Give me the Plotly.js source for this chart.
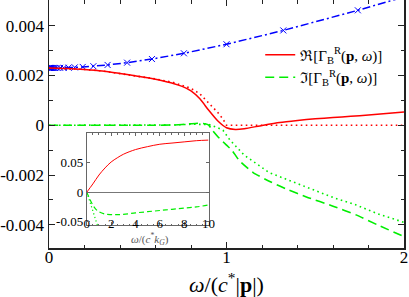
<!DOCTYPE html>
<html>
<head>
<meta charset="utf-8">
<script src="https://cdn.plot.ly/plotly-3.0.1.min.js"></script>
<style>html,body{margin:0;padding:0;background:#fff;}#chart{width:409px;height:297px;}</style>
</head>
<body>
<div id="chart"></div>
<script>
// ---- main panel data: omega/(c*|p|) ----
const xBlue = [0, 0.001, 0.0015, 0.002, 0.003, 0.004, 0.005, 0.007, 0.009, 0.012, 0.016, 0.021, 0.027, 0.036, 0.048, 0.063, 0.083, 0.11, 0.145, 0.19, 0.25, 0.33, 0.44, 0.58, 0.76, 1.0, 1.32, 1.74, 2.3];
const yBlue = [0.00230, 0.00230, 0.00230, 0.00230, 0.00230, 0.00230, 0.00230, 0.00230, 0.00230, 0.00230, 0.00230, 0.00230, 0.00230, 0.00230, 0.00230, 0.002305, 0.002308, 0.002314, 0.002324, 0.002342, 0.002371, 0.002422, 0.002513, 0.002659, 0.002889, 0.003253, 0.003808, 0.004616, 0.005772];

const xRe = [0, 0.1, 0.2, 0.3, 0.4, 0.5, 0.6, 0.65, 0.7, 0.75, 0.8, 0.85, 0.9, 0.95, 1.0, 1.05, 1.1, 1.2, 1.3, 1.4, 1.5, 1.6, 1.7, 1.8, 1.9, 2.0];
const yRe = [0.00230, 0.00228, 0.00224, 0.00218, 0.00208, 0.00197, 0.00185, 0.00177, 0.00168, 0.00156, 0.00138, 0.00106, 0.00060, 0.00018, -0.00010, -0.00017, -0.00014, -0.00001, 0.00011, 0.00019, 0.00026, 0.00031, 0.00036, 0.00041, 0.00047, 0.00053];

const xReFree = [0, 0.1, 0.2, 0.3, 0.4, 0.5, 0.6, 0.7, 0.8, 0.85, 0.9, 0.95, 0.98, 1.0, 1.2, 1.4, 1.6, 1.8, 2.0];
const yReFree = [0.00230, 0.00228, 0.00224, 0.00218, 0.00208, 0.00197, 0.00186, 0.00172, 0.00148, 0.00126, 0.00090, 0.00052, 0.00025, 0.0, 0.0, 0.0, 0.0, 0.0, 0.0];

const xIm = [0, 0.2, 0.4, 0.6, 0.7, 0.75, 0.8, 0.85, 0.88, 0.9, 0.92, 0.95, 1.0, 1.03, 1.07, 1.15, 1.25, 1.35, 1.45, 1.6, 1.73, 1.85, 2.0];
const yIm = [0, 0, 0, 0, 0.00001, 0.00003, 0.00006, 0.00008, 0.00006, 0.0, -0.0002, -0.00045, -0.0008, -0.0010, -0.0014, -0.0019, -0.00228, -0.0026, -0.00288, -0.00325, -0.0036, -0.0040, -0.00447];

const xImFree = [0, 0.2, 0.4, 0.6, 0.7, 0.8, 0.85, 0.9, 0.95, 0.98, 1.02, 1.06, 1.1, 1.24, 1.45, 1.6, 1.73, 1.85, 2.0];
const yImFree = [0, 0, 0, 0, 0.00001, 0.00004, 0.00005, 0.00003, -0.0001, -0.0002, -0.0006, -0.0009, -0.0012, -0.0019, -0.00248, -0.0029, -0.0032, -0.00355, -0.0039];

// ---- inset data: omega/(c* k_G) ----
const xInRe = [0, 0.5, 1, 1.5, 2, 2.5, 3, 4, 5, 6, 7, 8, 9, 10];
const yInRe = [0, 0.014, 0.029, 0.041, 0.051, 0.058, 0.064, 0.072, 0.077, 0.081, 0.083, 0.085, 0.087, 0.088];
const xInIm = [0, 0.25, 0.5, 0.75, 1, 1.5, 2, 2.5, 3, 4, 5, 6, 7, 8, 9, 10];
const yInIm = [0, -0.012, -0.022, -0.029, -0.033, -0.037, -0.038, -0.038, -0.0375, -0.035, -0.033, -0.031, -0.029, -0.027, -0.025, -0.0215];
const xInImFree = [0, 0.2, 0.4, 0.6, 0.8, 1.0];
const yInImFree = [0, -0.014, -0.027, -0.040, -0.052, -0.064];

// ---- tick labels ----
const yTickVals = [-0.004, -0.002, 0, 0.002, 0.004];
const yTickText = ["-0.004", "-0.002", "0", "0.002", "0.004"];
const xTickVals = [0, 1, 2];
const xTickText = ["0", "1", "2"];
const inYTickVals = [-0.05, 0, 0.05];
const inYTickText = ["-0.05", "0", "0.05"];
const inXTickVals = [0, 2, 4, 6, 8, 10];
const inXTickText = ["0", "2", "4", "6", "8", "10"];

const SERIF = '"Liberation Serif", "DejaVu Serif", serif';
const RED = '#ff0000', GREEN = '#00ee00', BLUE = '#0000ff';

const traces = [
  {x: xBlue, y: yBlue, mode: 'lines+markers', showlegend: false,
   line: {color: BLUE, width: 1.5, dash: '8px,3px,2px,3px'},
   marker: {symbol: 'x-thin', size: 6, line: {color: BLUE, width: 1}, color: BLUE}},
  {x: xReFree, y: yReFree, mode: 'lines', showlegend: false,
   line: {color: RED, width: 1.6, dash: '1.6px,3.4px'}},
  {x: xImFree, y: yImFree, mode: 'lines', showlegend: false,
   line: {color: GREEN, width: 1.6, dash: '1.6px,3.4px'}},
  {x: xRe, y: yRe, mode: 'lines', name: 'ℜ[Γ<sub>B</sub><sup>R</sup>(<b>p</b>, <i>ω</i>)]',
   line: {color: RED, width: 1.5, shape: 'spline', smoothing: 0.6}},
  {x: xIm, y: yIm, mode: 'lines', name: 'ℑ[Γ<sub>B</sub><sup>R</sup>(<b>p</b>, <i>ω</i>)]',
   line: {color: GREEN, width: 1.6, dash: '9px,5px', shape: 'spline', smoothing: 0.6}},
  // inset
  {x: xInRe, y: yInRe, xaxis: 'x2', yaxis: 'y2', mode: 'lines', showlegend: false,
   line: {color: RED, width: 1, shape: 'spline'}},
  {x: xInIm, y: yInIm, xaxis: 'x2', yaxis: 'y2', mode: 'lines', showlegend: false,
   line: {color: GREEN, width: 1.2, dash: '5px,3px', shape: 'spline'}},
  {x: xInImFree, y: yInImFree, xaxis: 'x2', yaxis: 'y2', mode: 'lines', showlegend: false,
   line: {color: GREEN, width: 1.2, dash: '1.2px,2.5px'}}
];

const layout = {
  width: 409, height: 297,
  margin: {l: 49, r: 5, t: 0, b: 49},
  paper_bgcolor: '#ffffff', plot_bgcolor: '#ffffff',
  font: {family: SERIF, color: '#000', size: 17},
  showlegend: true,
  legend: {x: 0.595, y: 0.845, xanchor: 'left', yanchor: 'top', bgcolor: 'rgba(0,0,0,0)',
           font: {family: SERIF, size: 15, color: '#000'}, itemwidth: 30, tracegroupgap: 0},
  xaxis: {domain: [0, 1], range: [0, 2], tickvals: xTickVals, ticktext: xTickText,
          ticks: 'inside', ticklen: 6, tickwidth: 1, tickcolor: '#222',
          minor: {dtick: 0.2, ticks: 'inside', ticklen: 3.5, tickcolor: '#222'},
          showline: true, linecolor: '#222', linewidth: 1.5, mirror: 'allticks',
          showgrid: false, zeroline: false, tickfont: {family: SERIF, size: 17}, ticklabelstandoff: -7,
          title: {text: '<i>ω</i>/(<i>c</i><sup>*</sup>|<b>p</b>|)', font: {family: SERIF, size: 22}, standoff: 18}},
  yaxis: {domain: [0, 1], range: [-0.00493, 0.00503], tickvals: yTickVals, ticktext: yTickText,
          ticks: 'inside', ticklen: 6, tickwidth: 1, tickcolor: '#222',
          minor: {dtick: 0.001, ticks: 'inside', ticklen: 3.5, tickcolor: '#222'},
          showline: true, linecolor: '#222', linewidth: 1.5, mirror: 'allticks',
          showgrid: false, zeroline: false, tickfont: {family: SERIF, size: 17}},
  xaxis2: {domain: [0.1065, 0.4493], anchor: 'y2', range: [0, 10], tickvals: inXTickVals, ticktext: inXTickText,
           ticks: 'inside', ticklen: 3, tickcolor: '#666',
           minor: {dtick: 0.5, ticks: 'inside', ticklen: 1.5, tickcolor: '#666'},
           showline: true, linecolor: '#666', linewidth: 1, mirror: 'allticks',
           showgrid: false, zeroline: false, tickfont: {family: SERIF, size: 13}, ticklabelstandoff: -14},
  yaxis2: {domain: [0.0927, 0.4637], anchor: 'x2', range: [-0.0555, 0.1], tickvals: inYTickVals, ticktext: inYTickText,
           ticks: 'inside', ticklen: 3, tickcolor: '#666',
           showline: true, linecolor: '#666', linewidth: 1, mirror: 'allticks',
           showgrid: false, zeroline: true, zerolinecolor: '#777', zerolinewidth: 1,
           tickfont: {family: SERIF, size: 13}},
  annotations: [
    {xref: 'paper', yref: 'paper', x: 0.285, y: 0.035, xanchor: 'center', yanchor: 'middle', showarrow: false,
     text: '<i>ω</i>/(<i>c</i><sup>*</sup><i>k</i><sub><i>G</i></sub>)', font: {family: SERIF, size: 11, color: '#555'}}
  ]
};

Plotly.newPlot('chart', traces, layout, {displayModeBar: false, staticPlot: true});
</script>
</body>
</html>
